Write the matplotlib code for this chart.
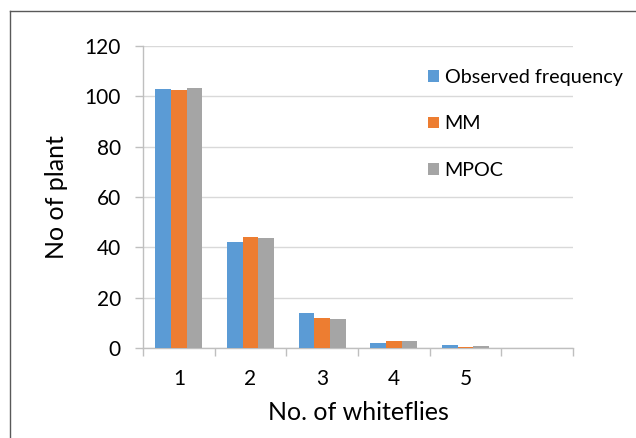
import matplotlib.pyplot as plt
from matplotlib.lines import Line2D
from matplotlib.patches import Patch
import numpy as np

# Number of whiteflies per plant and the fitted frequencies
categories = ['1', '2', '3', '4', '5', '']
observed = [103.1, 42.0, 13.9, 1.9, 1.1, 0.0]
mm = [102.4, 44.0, 12.1, 2.7, 0.5, 0.0]
mpoc = [103.3, 43.6, 11.7, 2.7, 0.6, 0.0]

series_names = ['Observed frequency', 'MM', 'MPOC']
colors = ['#5B9BD5', '#ED7D31', '#A5A5A5']

plt.rcParams['font.family'] = ['Lato', 'DejaVu Sans']

W, H = 636, 438
fig = plt.figure(figsize=(W / 100, H / 100), dpi=100)
ax = fig.add_axes([143 / W, 1 - 348 / H, (573 - 143) / W, (348 - 46) / H])

x = np.arange(1, len(categories) + 1)
width = 0.218
for i, (vals, col) in enumerate(zip([observed, mm, mpoc], colors)):
    ax.bar(x + (i - 1) * width, vals, width, color=col, zorder=3)

ax.set_xlim(0.5, len(categories) + 0.5)
ax.set_ylim(0, 120)
ax.set_yticks(range(0, 121, 20))
ax.yaxis.grid(True, color='#d9d9d9', linewidth=1.0, zorder=0)

# category labels in the middle, tick marks on the boundaries
ax.set_xticks(x)
ax.set_xticklabels(categories)
ax.set_xticks(np.arange(0.5, len(categories) + 1), minor=True)
ax.tick_params(axis='x', which='major', length=0, pad=15, labelsize=15)
ax.tick_params(axis='x', which='minor', length=6, width=1, color='#bfbfbf')
ax.tick_params(axis='y', length=6, width=1, color='#bfbfbf', pad=10, labelsize=15)

for side in ['top', 'right']:
    ax.spines[side].set_visible(False)
for side in ['left', 'bottom']:
    ax.spines[side].set_color('#bfbfbf')
    ax.spines[side].set_linewidth(1)

ax.set_xlabel('No. of whiteflies', fontsize=18, labelpad=9)
ax.set_ylabel('No of plant', fontsize=18, labelpad=12)

handles = [Patch(facecolor=c, edgecolor='none') for c in colors]
fig.legend(handles, series_names, loc='upper left',
           bbox_to_anchor=(418 / W, 1 - 59 / H), frameon=False,
           fontsize=14.2, handlelength=0.55, handleheight=0.55,
           handletextpad=0.3, labelspacing=1.5, borderpad=0)

# chart area border (left and top edges)
fig.add_artist(Line2D([10 / W, 10 / W], [0, 1 - 11 / H], color='#595959', linewidth=1))
fig.add_artist(Line2D([10 / W, 1], [1 - 11 / H, 1 - 11 / H], color='#595959', linewidth=1))

fig.savefig('out.png', dpi=100)
